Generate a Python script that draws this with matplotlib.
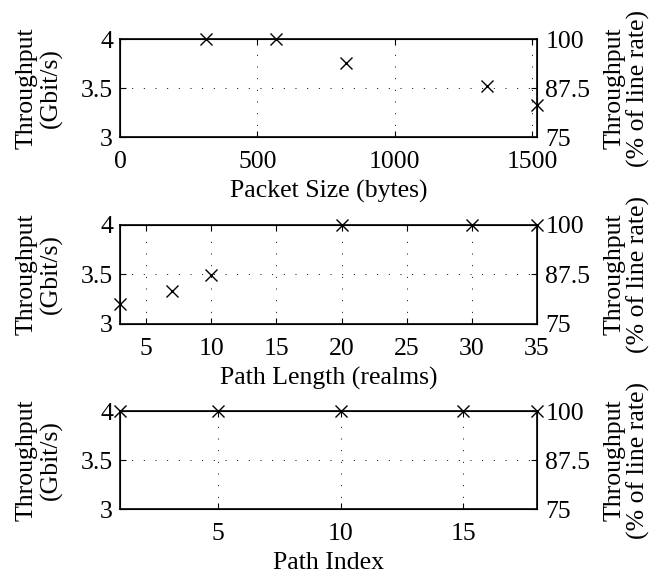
import matplotlib
matplotlib.use("Agg")
import matplotlib.pyplot as plt

plt.rcParams['font.family'] = ['Liberation Serif', 'DejaVu Serif']
plt.rcParams['mathtext.fontset'] = 'stix'

# Data
packet_size = [312, 568, 824, 1336, 1518]
thr_packet = [4.0, 4.0, 3.76, 3.52, 3.33]

path_length = [3, 7, 10, 20, 30, 35]
thr_length = [3.2, 3.33, 3.49, 4.0, 4.0, 4.0]

path_index = [1, 5, 10, 15, 18]
thr_index = [4.0, 4.0, 4.0, 4.0, 4.0]

panels = [
    dict(x=packet_size, y=thr_packet, xlim=(0, 1518), xticks=[0, 500, 1000, 1500],
         xlabel='Packet Size (bytes)', pos=[0.184, 0.762, 0.6396, 0.170]),
    dict(x=path_length, y=thr_length, xlim=(3, 35), xticks=[5, 10, 15, 20, 25, 30, 35],
         xlabel='Path Length (realms)', pos=[0.184, 0.4375, 0.6396, 0.1727]),
    dict(x=path_index, y=thr_index, xlim=(1, 18), xticks=[5, 10, 15],
         xlabel='Path Index', pos=[0.184, 0.1163, 0.6396, 0.1696]),
]

FS = 18.5
fig = plt.figure(figsize=(6.52, 5.76), dpi=100)
for p in panels:
    ax = fig.add_axes(p['pos'])
    ax.plot(p['x'], p['y'], linestyle='none', marker='x', color='black',
            markersize=9, markeredgewidth=1.0, clip_on=False, zorder=5)
    ax.set_xlim(*p['xlim'])
    ax.set_ylim(3, 4)
    ax.set_xticks(p['xticks'])
    ax.set_yticks([3, 3.5, 4])
    ax.set_yticklabels(['3', '3.5', '4'])
    ax.tick_params(direction='in', labelsize=FS, length=4, width=0.8, top=True)
    ax.tick_params(axis='x', pad=10)
    ax.tick_params(axis='y', pad=5)
    ax.grid(True, linestyle=(0, (1, 11)), color='black', linewidth=0.7)
    for s in ax.spines.values():
        s.set_linewidth(1.2)
    ax.set_xlabel(p['xlabel'], fontsize=FS, labelpad=5)
    ax.set_ylabel('Throughput\n(Gbit/s)', fontsize=FS, linespacing=1.1)
    ax.yaxis.set_label_coords(-0.137, 0.5)
    ax2 = ax.twinx()
    ax2.set_ylim(75, 100)
    ax2.set_yticks([75, 87.5, 100])
    ax2.set_yticklabels(['75', '87.5', '100'])
    ax2.tick_params(direction='in', labelsize=FS, length=4, width=0.8, pad=6)
    ax2.set_ylabel('Throughput\n(% of line rate)', fontsize=FS, linespacing=1.1)
    ax2.yaxis.set_label_coords(1.159, 0.5)

fig.savefig('out.png', dpi=100)
